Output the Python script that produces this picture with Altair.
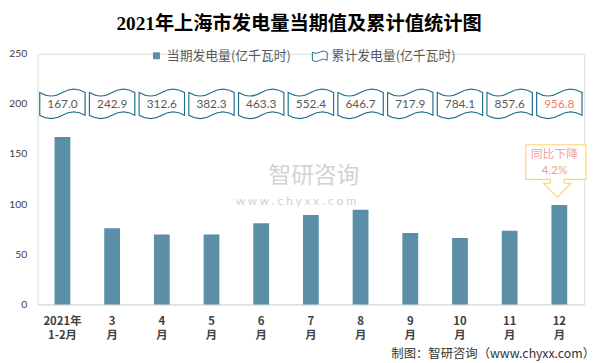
import altair as alt
import pandas as pd

# ---------------- data ----------------
months = ["2021年|1-2月", "3|月", "4|月", "5|月", "6|月", "7|月", "8|月", "9|月", "10|月", "11|月", "12|月"]
current = [167.0, 75.9, 69.7, 69.7, 81.0, 89.1, 94.3, 71.2, 66.2, 73.5, 99.2]
cumulative = [167.0, 242.9, 312.6, 382.3, 463.3, 552.4, 646.7, 717.9, 784.1, 857.6, 956.8]
y_ticks = [0, 50, 100, 150, 200, 250]
series_current = "当期发电量(亿千瓦时)"
series_cumulative = "累计发电量(亿千瓦时)"
title_text = "2021年上海市发电量当期值及累计值统计图"
yoy_lines = ["同比下降", "4.2%"]
yoy_month = "12|月"
watermark_lines = ["智研咨询", "w w w . c h y x x . c o m"]
credit_text = "制图：智研咨询（www.chyxx.com）"

df = pd.DataFrame({"month": months, "current": current, "cumulative": cumulative})
df["cum_label"] = [f"{v:.1f}" for v in cumulative]
df["s1"] = series_current
df["s2"] = series_cumulative

# ---------------- styles ----------------
BAR = "#5b8fa7"
BOX = "#246f8c"
GRAY = "#595959"
CJK = "Noto Sans CJK SC"
NUM = "Lato"

box_path = ("M-23,-11.5 Q-11.5,-4.5 0,-11.5 Q11.5,-18.5 23,-11.5 L23,11.5 "
            "Q11.5,4.5 0,11.5 Q-11.5,18.5 -23,11.5 Z")
flag_path = ("M-1,-0.55 Q-0.5,-0.2 0,-0.55 Q0.5,-0.9 1,-0.55 L1,0.55 "
             "Q0.5,0.2 0,0.55 Q-0.5,0.9 -1,0.55 Z")
callout_path = ("M-34,-53 L27,-53 L27,-18 L5,-18 L5,-14 L12,-14 L-2,0 "
                "L-16,-14 L-9,-14 L-9,-18 L-34,-18 Z")

x_scale = alt.Scale(paddingInner=0, paddingOuter=0)
x_axis = alt.Axis(
    title=None, labelAngle=0, labelExpr="split(datum.label, '|')",
    labelFont=CJK, labelFontSize=11.5, labelFontWeight="bold",
    labelColor="#404040", labelPadding=11, labelLineHeight=15,
    ticks=False, domainColor="#d9d9d9", domainWidth=1, grid=False,
)
y_scale = alt.Scale(domain=[0, 250], nice=False, zero=True)
y_axis = alt.Axis(
    title=None, values=y_ticks, labelFont=NUM, labelFontSize=10.5,
    labelColor="#404040", labelPadding=11, ticks=False, domain=False,
    grid=False,
)
x_enc = alt.X("month:N", sort=months, scale=x_scale, axis=x_axis)
y_enc = alt.Y("current:Q", scale=y_scale, axis=y_axis)
y_box = alt.YDatum(200, scale=y_scale, axis=y_axis)

base = alt.Chart(df)

# watermark (decoration)
wm1 = alt.Chart(pd.DataFrame({"t": [watermark_lines[0]]})).mark_text(
    font=CJK, fontSize=23, color="#d3d3d3"
).encode(x=alt.value(280), y=alt.value(124), text="t:N")
wm2 = alt.Chart(pd.DataFrame({"t": [watermark_lines[1]]})).mark_text(
    font=NUM, fontSize=12, color="#cfcfcf"
).encode(x=alt.value(262), y=alt.value(149), text="t:N")

bars = base.mark_bar(size=16).encode(
    x=x_enc, y=y_enc,
    color=alt.Color(
        "s1:N", scale=alt.Scale(range=[BAR]),
        legend=alt.Legend(
            orient="none", legendX=114, legendY=-4.5, title=None, padding=0,
            symbolType="square", symbolSize=49, symbolStrokeWidth=0,
            labelFont=CJK, labelFontSize=13, labelColor=GRAY, labelOffset=4,
        ),
    ),
)

boxes = base.mark_point(
    shape=box_path, size=4, filled=True, fill="white", strokeWidth=1.2, opacity=1
).encode(
    x=x_enc, y=y_box,
    stroke=alt.Stroke(
        "s2:N", scale=alt.Scale(range=[BOX]),
        legend=alt.Legend(
            orient="none", legendX=278, legendY=-5.5, title=None, padding=0,
            symbolType=flag_path, symbolSize=225, symbolStrokeWidth=1,
            symbolFillColor="white", symbolOpacity=1,
            labelFont=CJK, labelFontSize=13, labelColor=GRAY, labelOffset=4,
        ),
    ),
)

box_text = base.mark_text(font=NUM, fontSize=12).encode(
    x=x_enc, y=y_box,
    text="cum_label:N",
    color=alt.condition(alt.datum.month == yoy_month,
                        alt.value("#f0806a"), alt.value(GRAY)),
)

last = base.transform_filter(alt.datum.month == yoy_month)
callout = last.mark_point(
    shape=callout_path, size=4, filled=True, fill="white",
    stroke="#ffd47a", strokeWidth=1.2, opacity=1, yOffset=-8,
).encode(x=x_enc, y=y_enc)
callout_t1 = last.mark_text(
    text=yoy_lines[0], font=CJK, fontSize=12, color="#f2a0a0",
    yOffset=-52, xOffset=-5,
).encode(x=x_enc, y=y_enc)
callout_t2 = last.mark_text(
    text=yoy_lines[1], font=NUM, fontSize=12, color="#f3a083",
    yOffset=-35, xOffset=-5,
).encode(x=x_enc, y=y_enc)

credit = alt.Chart(pd.DataFrame({"t": [credit_text]})).mark_text(
    font=CJK, fontSize=12.5, color="#333333", align="right"
).encode(x=alt.value(565), y=alt.value(304), text="t:N")

chart = alt.layer(
    wm1, wm2, bars, boxes, box_text, callout, callout_t1, callout_t2, credit
).properties(
    width=554, height=254,
    title=alt.TitleParams(
        title_text, font="Liberation Serif, " + CJK, fontSize=19.5,
        fontWeight="bold", color="#000000", anchor="middle", dx=-12, offset=14,
    ),
    autosize=alt.AutoSizeParams(type="none"),
    padding={"left": 30, "top": 44, "right": 13, "bottom": 57},
).configure_view(stroke=None).configure(background="white")

chart.save("out.html", embed_options={"renderer": "svg", "actions": False})
